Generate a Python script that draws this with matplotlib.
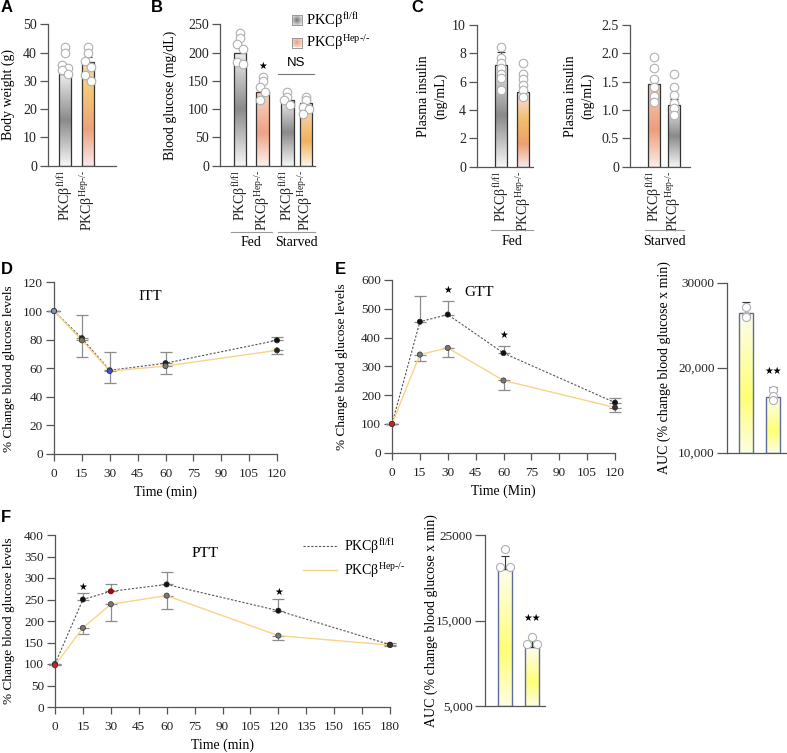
import numpy as np
import matplotlib
matplotlib.use('Agg')
import matplotlib.pyplot as plt
from matplotlib.colors import LinearSegmentedColormap
from matplotlib.lines import Line2D

plt.rcParams['font.family'] = ['Liberation Serif', 'DejaVu Serif']
plt.rcParams['mathtext.fontset'] = 'custom'
plt.rcParams['mathtext.rm'] = 'Liberation Serif'
plt.rcParams['mathtext.it'] = 'Liberation Serif:italic'
plt.rcParams['mathtext.bf'] = 'Liberation Serif:bold'

# ---------------- data ----------------
FL = r'PKCβ$^{\mathrm{fl/fl}}$'
HEP = r'PKCβ$^{\mathrm{Hep‐/‐}}$'

bw_labels = [FL, HEP]
bw_mean = [32.5, 36.5]
bw_sem = [1.6, 1.9]
bw_pts = [[42, 40, 35.5, 34.5, 34, 32.5], [42, 40, 37, 35, 32, 30]]

bg_labels = [FL, HEP, FL, HEP]
bg_mean = [200, 130, 117, 110]
bg_pts = [[234, 226, 216, 207, 184, 180], [156, 149, 139, 131, 116],
          [131, 122, 116, 107], [121, 116, 104, 101, 92]]

ins_fed_labels = [FL, HEP]
ins_fed_mean = [7.2, 5.3]
ins_fed_sem = [0.9, 0.4]
ins_fed_pts = [[8.45, 7.65, 7.3, 6.95, 6.55, 6.25, 5.4], [7.3, 6.55, 6.2, 5.75, 5.4, 4.95]]

ins_st_labels = [FL, HEP]
ins_st_mean = [1.46, 1.09]
ins_st_sem = [0.12, 0.1]
ins_st_pts = [[1.93, 1.74, 1.55, 1.41, 1.24, 1.15], [1.64, 1.40, 1.26, 1.12, 1.03, 0.91]]

itt_t = [0, 15, 30, 60, 120]
itt_fl = [100, 81, 58.5, 63.5, 79.5]
itt_hep = [100, 79.5, 58, 61.5, 72.5]
itt_fl_up = [0, 16, 13, 7.5, 2.5]
itt_hep_dn = [0, 12, 8, 5.5, 2.5]

gtt_t = [0, 15, 30, 60, 120]
gtt_fl = [100, 455, 480, 346, 174]
gtt_hep = [100, 341, 364, 251, 157]
gtt_fl_up = [0, 90, 47, 23, 16]
gtt_hep_dn = [0, 21, 31, 33, 17]
gtt_sig_t = [30, 60]
gtt_sig_y = [565, 408]

gtt_auc_mean = [26400, 16500]
gtt_auc_sem = [1300, 1200]
gtt_auc_pts = [[27100, 25950, 26100], [17400, 16700, 16200]]

ptt_t = [0, 15, 30, 60, 120, 180]
ptt_fl = [100, 250, 269, 285, 224, 145]
ptt_hep = [97, 184, 239, 259, 166, 144]
ptt_fl_up = [0, 15, 16, 28, 28, 3]
ptt_hep_dn = [0, 15, 39, 30, 11, 3]
ptt_sig_t = [15, 120]
ptt_sig_y = [279, 268]

ptt_auc_mean = [21000, 11900]
ptt_auc_sem = [1500, 700]
ptt_auc_pts = [[23400, 21300, 21300], [13100, 12250, 12250]]

# ---------------- helpers ----------------
W, H = 787, 753
fig = plt.figure(figsize=(W / 100, H / 100), dpi=100)


def px_ax(l, r, t, b):
    return fig.add_axes([l / W, 1 - b / H, (r - l) / W, (b - t) / H])


def cmap(name, stops):
    return LinearSegmentedColormap.from_list(name, stops)


CM_GRAY = cmap('gray', [(0, '#f7f7f7'), (0.5, '#8a8a8a'), (1, '#ededed')])
CM_ORANGE_A = cmap('oa', [(0, '#f9e9ee'), (0.35, '#eda27a'), (0.7, '#f4c476'), (1, '#f8dcaa')])
CM_SALMON = cmap('sal', [(0, '#fcf2ee'), (0.45, '#efa286'), (1, '#f8d6c6')])
CM_ORANGE_B = cmap('ob', [(0, '#fcf4ec'), (0.4, '#f1b25c'), (1, '#f6dcc2')])
CM_ORANGE_C = cmap('oc', [(0, '#f8e8ec'), (0.3, '#eda070'), (0.6, '#f2bc66'), (1, '#f6e2ea')])
CM_SALMON_C = cmap('sc', [(0, '#fbeee8'), (0.45, '#ee9d7a'), (1, '#f6cdb8')])
CM_YELLOW = cmap('y', [(0, '#fdfde4'), (0.4, '#ffff76'), (1, '#fdfdf0')])

SPINE = '#555555'


def base_style(ax):
    for s in ['top', 'right']:
        ax.spines[s].set_visible(False)
    for s in ['left', 'bottom']:
        ax.spines[s].set_color(SPINE)
        ax.spines[s].set_linewidth(0.9)
    ax.tick_params(color=SPINE, labelcolor='#222222', width=0.9)


def ylab(ax, text, right_px, left_px, width_px, fs=10, **kw):
    ax.set_ylabel(text, fontsize=fs, **kw)
    ax.yaxis.set_label_coords((right_px - left_px) / width_px, 0.5)


def grad_bars(ax, xs, means, width, cmaps, bottom=0, edge='#333333', lw=0.9):
    heights = [m - bottom for m in means]
    bars = ax.bar(xs, heights, width, bottom=bottom, facecolor='none',
                  edgecolor=edge, linewidth=lw, zorder=3)
    grad = np.linspace(0, 1, 256).reshape(-1, 1)
    for b, cm in zip(bars, cmaps):
        x0, y0, w, h = b.get_x(), b.get_y(), b.get_width(), b.get_height()
        im = ax.imshow(grad, cmap=cm, aspect='auto', origin='lower',
                       extent=(x0, x0 + w, y0, y0 + h), zorder=2, interpolation='bilinear')
        im.set_clip_path(b)
    return bars


OFFS = [0.0, 0.0, -0.13, 0.13, -0.13, 0.13, 0.0]


def dots(ax, xs, pts, spread=1.0, s=38):
    for x, p in zip(xs, pts):
        p = sorted(p, reverse=True)
        ox = [x + OFFS[i % len(OFFS)] * spread for i in range(len(p))]
        ax.scatter(ox, p, s=s, facecolor='white', edgecolor='#b0b0b0',
                   linewidth=0.8, zorder=6, clip_on=False)


def errs(ax, xs, means, sems, color='#333333'):
    ax.errorbar(xs, means, yerr=[np.zeros(len(sems)), sems], fmt='none',
                ecolor=color, elinewidth=0.8, capsize=3, capthick=0.8, zorder=4)


def rot_labels(ax, xs, labels, fs=10):
    ax.set_xticks(xs)
    ax.set_xticklabels(labels, rotation=90, fontsize=fs, va='top', ha='center')
    ax.tick_params(axis='x', length=0, pad=3)


def group_line(ax, x0, x1, yline, ytext, label):
    tr = ax.get_xaxis_transform()
    ax.plot([x0, x1], [yline, yline], color='#999999', lw=0.8, transform=tr, clip_on=False)
    ax.text((x0 + x1) / 2, ytext, label, transform=tr, ha='center', va='top', fontsize=10)


def panel_letter(xp, yp, s):
    fig.text(xp / W, 1 - yp / H, s, fontsize=12, fontweight='bold',
             family='Liberation Sans', ha='left', va='center')


def star(ax, x, y, s='★', fs=7):
    ax.text(x, y, s, ha='center', va='center', fontsize=fs, family='DejaVu Sans', zorder=7)


TOP_B = 165.7
TOP_H = 141.4

# ---------------- A ----------------
axA = px_ax(48, 116, 24.3, TOP_B)
base_style(axA)
xa = np.arange(len(bw_mean))
grad_bars(axA, xa, bw_mean, 0.52, [CM_GRAY, CM_ORANGE_A])
errs(axA, xa, bw_mean, bw_sem)
dots(axA, xa, bw_pts)
axA.set_xlim(-0.74, 2.22)
axA.set_ylim(0, 50)
axA.set_yticks([0, 10, 20, 30, 40, 50])
axA.tick_params(axis='y', labelsize=10, length=6, pad=2)
rot_labels(axA, xa, bw_labels)
ylab(axA, 'Body weight (g)', 15, 48, 68)
panel_letter(1, 8, 'A')

# ---------------- B ----------------
axB = px_ax(220, 315, 24.3, TOP_B)
base_style(axB)
xb = np.array([0, 1, 2.1, 2.92])
grad_bars(axB, xb, bg_mean, 0.55, [CM_GRAY, CM_SALMON, CM_GRAY, CM_ORANGE_B])
dots(axB, xb, bg_pts)
axB.set_xlim(-0.89, 3.33)
axB.set_ylim(0, 250)
axB.set_yticks([0, 50, 100, 150, 200, 250])
axB.tick_params(axis='y', labelsize=10, length=6, pad=2)
rot_labels(axB, xb, bg_labels)
ylab(axB, 'Blood glucose (mg/dL)', 177, 220, 95)
star(axB, xb[1], 177)
axB.plot([xb[2] - 0.4, xb[3] + 0.35], [163, 163], color='#777777', lw=0.8, clip_on=False)
axB.text((xb[2] + xb[3]) / 2, 181, 'NS', ha='center', va='center', fontsize=9.5,
         family='Liberation Sans')
group_line(axB, xb[0] - 0.4, xb[1] + 0.4, (TOP_B - 232) / TOP_H, (TOP_B - 236) / TOP_H, 'Fed')
group_line(axB, xb[2] - 0.4, xb[3] + 0.4, (TOP_B - 232) / TOP_H, (TOP_B - 236) / TOP_H, 'Starved')
panel_letter(151, 8, 'B')

# legend squares for B
rr = np.linspace(-1, 1, 40)
RX, RY = np.meshgrid(rr, rr)
radial = np.clip(1 - np.sqrt(RX ** 2 + RY ** 2) / 1.3, 0, 1)
for (t, b), cm, lab in [((15, 25), cmap('lg', ['#eeeeee', '#777777']), FL),
                         ((37.5, 47.5), cmap('lo', ['#fbe3d8', '#ee9f80']), HEP)]:
    lax = px_ax(291.5, 301.5, t, b)
    lax.imshow(radial, cmap=cm, aspect='auto', interpolation='bilinear')
    lax.set_xticks([])
    lax.set_yticks([])
    for s in lax.spines.values():
        s.set_color('#999999')
        s.set_linewidth(0.7)
    fig.text(306 / W, 1 - (t + b) / 2 / H, lab, fontsize=10.5, ha='left', va='center')

# ---------------- C left ----------------
axC1 = px_ax(477, 533, 25, 166.7)
base_style(axC1)
xc = np.arange(2)
grad_bars(axC1, xc, ins_fed_mean, 0.55, [CM_GRAY, CM_ORANGE_C])
errs(axC1, xc, ins_fed_mean, ins_fed_sem)
dots(axC1, xc, ins_fed_pts, spread=0.0)
axC1.set_xlim(-1.09, 1.45)
axC1.set_ylim(0, 10)
axC1.set_yticks([0, 2, 4, 6, 8, 10])
axC1.tick_params(axis='y', labelsize=10, length=6, pad=2)
rot_labels(axC1, xc, ins_fed_labels)
ylab(axC1, 'Plasma insulin\n(ng/mL)', 447, 477, 56, linespacing=1.3)
group_line(axC1, -0.45, 1.45, (166.7 - 230) / 141.7, (166.7 - 235) / 141.7, 'Fed')
panel_letter(411, 8, 'C')

# ---------------- C right ----------------
axC2 = px_ax(630, 690, 25, 166.7)
base_style(axC2)
grad_bars(axC2, xc, ins_st_mean, 0.6, [CM_SALMON_C, CM_GRAY])
errs(axC2, xc, ins_st_mean, ins_st_sem)
dots(axC2, xc, ins_st_pts, spread=0.0)
axC2.set_xlim(-1.2, 1.8)
axC2.set_ylim(0, 2.5)
axC2.set_yticks([0, 0.5, 1.0, 1.5, 2.0, 2.5])
axC2.set_yticklabels(['0', '0.5', '1.0', '1.5', '2.0', '2.5'])
axC2.tick_params(axis='y', labelsize=10, length=6, pad=2)
rot_labels(axC2, xc, ins_st_labels)
ylab(axC2, 'Plasma insulin\n(ng/mL)', 594, 630, 60, linespacing=1.3)
group_line(axC2, -0.45, 1.5, (166.7 - 230) / 141.7, (166.7 - 235) / 141.7, 'Starved')


# ---------------- line panels ----------------
def line_panel(ax, t, fl, hep, fl_up, hep_dn, fl_c, hep_c):
    z = np.zeros(len(t))
    ax.errorbar(t, fl, yerr=[z, fl_up], fmt='none', ecolor='#8c8c8c', elinewidth=0.9,
                capsize=4, capthick=0.9, zorder=2, clip_on=False)
    ax.errorbar(t, hep, yerr=[hep_dn, z], fmt='none', ecolor='#8c8c8c', elinewidth=0.9,
                capsize=4, capthick=0.9, zorder=2, clip_on=False)
    ax.plot(t, fl, ls=(0, (2, 1.5)), color='#555555', lw=0.8, zorder=3, clip_on=False)
    ax.plot(t, hep, color='#f7d488', lw=1.0, zorder=3, clip_on=False)
    ax.scatter(t, fl, s=14, c=fl_c, edgecolors='#222222', linewidths=0.5, zorder=5, clip_on=False)
    ax.scatter(t, hep, s=14, c=hep_c, edgecolors='#333333', linewidths=0.5, zorder=5, clip_on=False)


def line_style(ax, xticks, yticks):
    base_style(ax)
    ax.set_xticks(xticks)
    ax.set_yticks(yticks)
    ax.set_xlim(xticks[0], xticks[-1])
    ax.set_ylim(yticks[0], yticks[-1])
    ax.tick_params(axis='x', labelsize=9.5, length=5, pad=5)
    ax.tick_params(axis='y', labelsize=9.5, length=6, pad=2)


# D
axD = px_ax(54, 277, 282.4, 454)
line_style(axD, list(range(0, 121, 15)), list(range(0, 121, 20)))
line_panel(axD, itt_t, itt_fl, itt_hep, itt_fl_up, itt_hep_dn,
           ['#6f7fd0', '#222222', '#2a44e0', '#222222', '#111111'],
           ['#8090c8', '#7a7a5a', '#3050e0', '#777777', '#222222'])
axD.set_xlabel('Time (min)', fontsize=10, labelpad=4)
ylab(axD, '% Change blood glucose levels', 15, 54, 223, fs=9.5)
axD.text(52, 110, 'ITT', ha='center', va='center', fontsize=11)
panel_letter(1, 270, 'D')

# E
axE = px_ax(392, 615, 280, 452.7)
line_style(axE, list(range(0, 121, 15)), list(range(0, 601, 100)))
line_panel(axE, gtt_t, gtt_fl, gtt_hep, gtt_fl_up, gtt_hep_dn,
           ['#6070c0', '#111111', '#111111', '#111111', '#111111'],
           ['#d02030', '#777777', '#777777', '#777777', '#333333'])
axE.set_xlabel('Time (Min)', fontsize=10, labelpad=4)
ylab(axE, '% Change blood glucose levels', 348, 392, 223, fs=9.5)
axE.text(47, 556, 'GTT', ha='center', va='center', fontsize=11)
for t_, y_ in zip(gtt_sig_t, gtt_sig_y):
    star(axE, t_, y_)
panel_letter(335, 270, 'E')

# E AUC
axEa = px_ax(727, 787, 282.7, 452.7)
base_style(axEa)
xe = np.arange(2)
grad_bars(axEa, xe, gtt_auc_mean, 0.52, [CM_YELLOW, CM_YELLOW], bottom=10000,
          edge='#5d6c9c', lw=1.0)
errs(axEa, xe, gtt_auc_mean, gtt_auc_sem)
dots(axEa, xe, gtt_auc_pts, spread=0.0, s=34)
axEa.set_xlim(-0.70, 1.52)
axEa.set_ylim(10000, 30000)
axEa.set_xticks([])
axEa.set_yticks([10000, 20000, 30000])
axEa.set_yticklabels(['10,000', '20,000', '30000'])
axEa.tick_params(axis='y', labelsize=9.5, length=7, pad=2)
ylab(axEa, 'AUC (% change blood glucose x min)', 671, 727, 60)
star(axEa, xe[1], 19600, '★★')

# F
axF = px_ax(55, 390, 535, 707)
line_style(axF, list(range(0, 181, 15)), list(range(0, 401, 50)))
line_panel(axF, ptt_t, ptt_fl, ptt_hep, ptt_fl_up, ptt_hep_dn,
           ['#3050d0', '#111111', '#c00000', '#111111', '#111111', '#111111'],
           ['#d02020', '#777777', '#777777', '#777777', '#777777', '#333333'])
axF.set_xlabel('Time (min)', fontsize=10, labelpad=4)
ylab(axF, '% Change blood glucose levels', 15, 55, 335, fs=9.5)
axF.text(80.6, 358, 'PTT', ha='center', va='center', fontsize=11)
for t_, y_ in zip(ptt_sig_t, ptt_sig_y):
    star(axF, t_, y_)
handles = [Line2D([], [], ls=(0, (2, 1.5)), color='#555555', lw=0.8),
           Line2D([], [], color='#f7d488', lw=1.0)]
axF.legend(handles, [FL, HEP], loc='upper left', frameon=False, fontsize=10,
           handlelength=2.5, handletextpad=0.5, labelspacing=0.35,
           bbox_to_anchor=((297 - 55) / 335, (707 - 531) / 172), borderaxespad=0)
panel_letter(1, 517, 'F')

# F AUC
axFa = px_ax(485, 545, 535, 706)
base_style(axFa)
grad_bars(axFa, xe, ptt_auc_mean, 0.55, [CM_YELLOW, CM_YELLOW], bottom=5000,
          edge='#5d6c9c', lw=1.0)
errs(axFa, xe, ptt_auc_mean, ptt_auc_sem)
for x, p in zip(xe, ptt_auc_pts):
    axFa.scatter([x, x - 0.17, x + 0.17], p, s=34, facecolor='white', edgecolor='#b0b0b0',
                 linewidth=0.8, zorder=6, clip_on=False)
axFa.set_xlim(-0.74, 1.48)
axFa.set_ylim(5000, 25000)
axFa.set_xticks([])
axFa.set_yticks([5000, 15000, 25000])
axFa.set_yticklabels(['5,000', '15,000', '25000'])
axFa.tick_params(axis='y', labelsize=9.5, length=7, pad=2)
ylab(axFa, 'AUC (% change blood glucose x min)', 438, 485, 60)
star(axFa, xe[1], 15300, '★★')

fig.savefig('out.png', dpi=100)
